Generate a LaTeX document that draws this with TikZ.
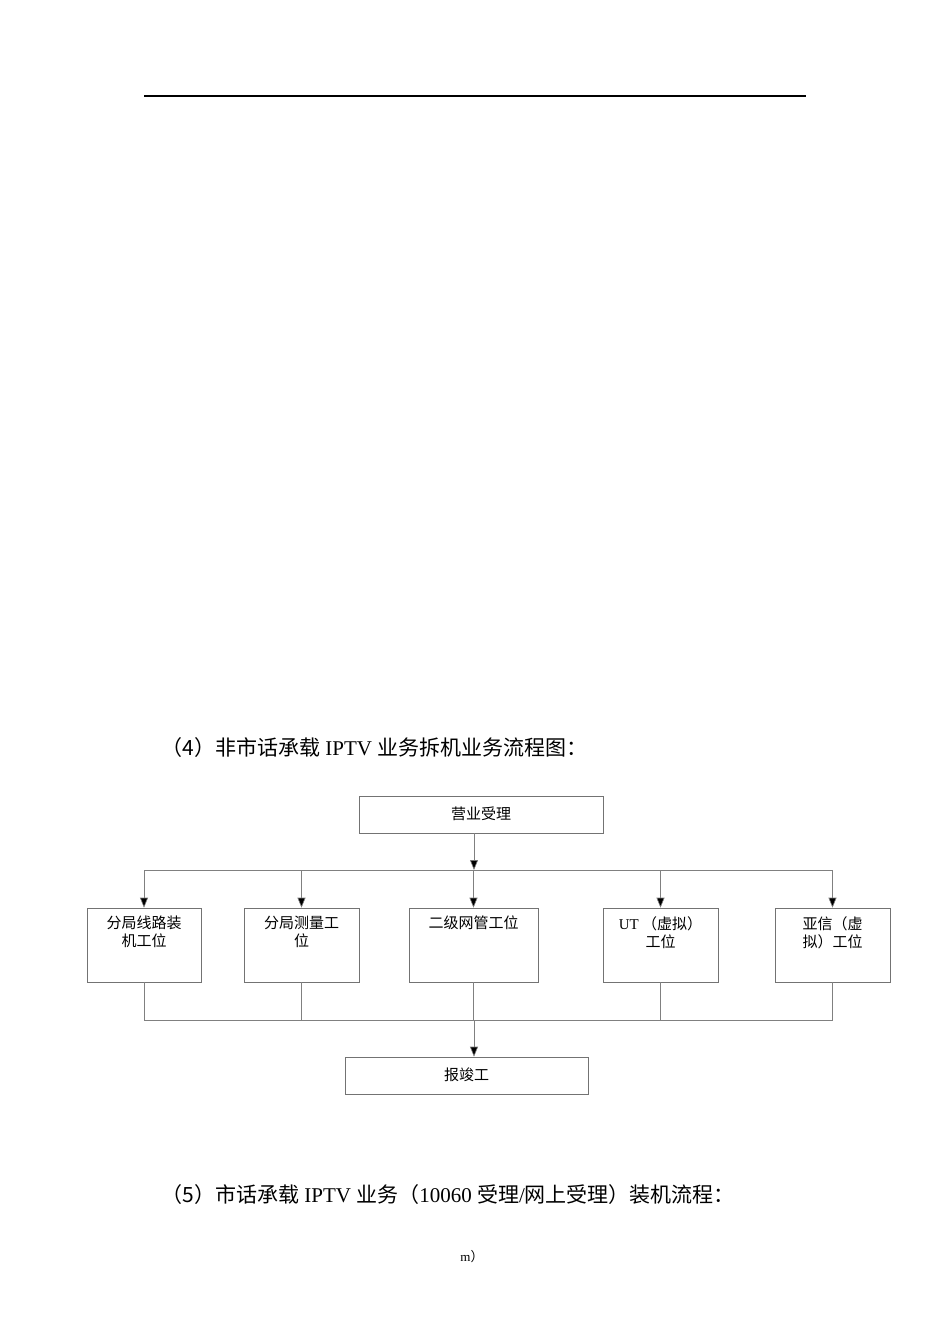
\documentclass[tikz,border=0pt]{standalone}
\usepackage{fontspec}
\setmainfont{Liberation Serif}
\newfontfamily\cjk{Noto Sans CJK SC}
\usetikzlibrary{arrows.meta}
\begin{document}
\begin{tikzpicture}[x=1pt,y=-1pt,
  box/.style={draw=black!55,line width=0.6pt,inner sep=0pt},
  lbl/.style={font=\fontsize{15}{18}\selectfont\cjk,align=center,anchor=north},
  ln/.style={draw=black!50,line width=0.6pt},
  arr/.style={ln,-{Triangle[length=10pt,width=8pt,fill=black]}}]
\useasboundingbox (0,0) rectangle (950,1344);
\draw[line width=1.2pt] (144,96) -- (806,96);
\node[anchor=west,font=\fontsize{21}{24}\selectfont] (h4) at (158,748) {{\cjk（4）非市话承载} IPTV {\cjk 业务拆机业务流程图：}};
% boxes
\node[box,minimum width=244pt,minimum height=37pt] (top) at (481,814.5) {};
\node[lbl] at ([yshift=-8pt]top.north) {营业受理};
\node[box,minimum width=114pt,minimum height=74pt] (b1) at (144,945) {};
\node[box,minimum width=115pt,minimum height=74pt] (b2) at (301.5,945) {};
\node[box,minimum width=129pt,minimum height=74pt] (b3) at (473.5,945) {};
\node[box,minimum width=115pt,minimum height=74pt] (b4) at (660.5,945) {};
\node[box,minimum width=115pt,minimum height=74pt] (b5) at (832.5,945) {};
\node[lbl] at ([yshift=-5pt]b1.north) {分局线路装\\机工位};
\node[lbl] at ([yshift=-5pt]b2.north) {分局测量工\\位};
\node[lbl] at ([yshift=-5pt]b3.north) {二级网管工位};
\node[lbl] at ([yshift=-5pt]b4.north) {{\rmfamily UT} （虚拟）\\工位};
\node[lbl] at ([yshift=-5pt]b5.north) {亚信（虚\\拟）工位};
\node[box,minimum width=243pt,minimum height=37pt] (end) at (466.5,1075.5) {};
\node[lbl] at ([yshift=-8pt]end.north) {报竣工};
% connectors
\coordinate (s) at (474,870);
\coordinate (j) at (474,1020);
\draw[arr] (top.south -| s) -- (s);
\draw[ln] (b1.north |- s) -- (b5.north |- s);
\foreach \b in {b1,b2,b3,b4,b5}{
  \draw[arr] (\b.north |- s) -- (\b.north);
  \draw[ln] (\b.south) -- (\b.south |- j);}
\draw[ln] (b1.south |- j) -- (b5.south |- j);
\draw[arr] (j) -- (j |- end.north);
\node[anchor=west,font=\fontsize{21}{24}\selectfont] (h5) at (158,1195) {{\cjk（5）市话承载} IPTV {\cjk 业务（}10060 {\cjk 受理}/{\cjk 网上受理）装机流程：}};
\node[font=\fontsize{13}{15}\selectfont] (m) at (472,1257) {m{\cjk ）}};
\end{tikzpicture}
\end{document}
